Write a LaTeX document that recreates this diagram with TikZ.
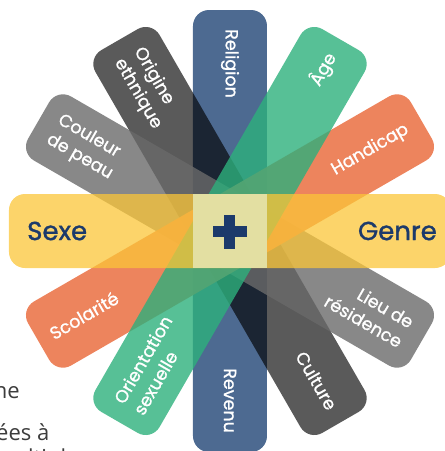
\documentclass[tikz,border=0pt]{standalone}
\usepackage{fontspec}
\setmainfont{Poppins}
\newfontfamily\lblfont[FakeBold=1.1]{Poppins}
\newfontfamily\bigfont[FakeBold=1.3]{Poppins}
\newfontfamily\bodyfont{Open Sans}
\definecolor{cblue}{RGB}{77,106,145}
\definecolor{cdark}{RGB}{90,90,90}
\definecolor{clight}{RGB}{106,106,106}
\definecolor{corange}{RGB}{236,121,79}
\definecolor{cgreen}{RGB}{45,176,124}
\definecolor{cyellow}{RGB}{251,198,56}
\definecolor{cpale}{RGB}{227,223,162}
\definecolor{cnavy}{RGB}{28,58,107}
\definecolor{cbody}{RGB}{60,60,60}
\newcommand\drawband[2]{\fill[bandshape,#2,rotate=#1] (-221,-37) rectangle (221,37);}
\begin{document}
\begin{tikzpicture}[x=1pt,y=1pt,
  bandshape/.style={rounded corners=16pt},
  lbl/.style={text=white, font=\lblfont\fontsize{17.5}{22.5}\selectfont, inner sep=0pt},
  big/.style={text=cnavy, font=\bigfont\fontsize{26}{30}\selectfont, inner sep=0pt},
  bodytxt/.style={text=cbody, font=\bodyfont\fontsize{22}{26}\selectfont, inner sep=0pt}]
\useasboundingbox (-230,-220) rectangle (215,231);
% bands
\drawband{90}{cblue}
\begin{scope}[blend mode=multiply]
\drawband{120}{cdark}
\end{scope}
\drawband{150}{clight,opacity=0.8}
\drawband{30}{corange,opacity=0.92}
\drawband{60}{cgreen,opacity=0.8}
\drawband{0}{cyellow,opacity=0.75}
% centre
\fill[cpale] (-37,-37) rectangle (37,37);
\fill[cnavy] (-17,-5.5) rectangle (17,5.5);
\fill[cnavy] (-5.5,-17.5) rectangle (5.5,16.5);
% labels
\node[lbl, rotate=-90, anchor=west] (religion) at (90:202) {Religion};
\node[lbl, rotate=-90, anchor=east] (revenu) at (270:202) {Revenu};
\node[big, anchor=west] (sexe) at (180:203) {Sexe};
\node[big, anchor=east] (genre) at (0:207) {Genre};
\node[lbl, rotate=60, anchor=east] (age) at (60:204) {Âge};
\node[lbl, rotate=30, anchor=east] (handicap) at (30:205) {Handicap};
\node[lbl, rotate=30, anchor=west] (scolarite) at (210:207) {Scolarité};
\node[lbl, rotate=60, anchor=west, align=left] (orientation) at (240:204) {Orientation\\sexuelle};
\node[lbl, rotate=-60, anchor=west, align=left] (origine) at (120:204) {Origine\\ethnique};
\node[lbl, rotate=-60, anchor=east] (culture) at (300:205) {Culture};
\node[lbl, rotate=-30, anchor=west, align=left] (couleur) at (150:204) {Couleur\\de peau};
\node[lbl, rotate=-30, anchor=east, align=right] (lieu) at (330:204) {Lieu de\\résidence};
% cut-off body text
\node[bodytxt, anchor=base east] (t1) at (-210,-167) {ne};
\node[bodytxt, anchor=base west] (t2) at (-234,-209) {ées à};
\node[bodytxt, anchor=base west] (t3) at (-236,-234) {multiples};
\end{tikzpicture}
\end{document}
